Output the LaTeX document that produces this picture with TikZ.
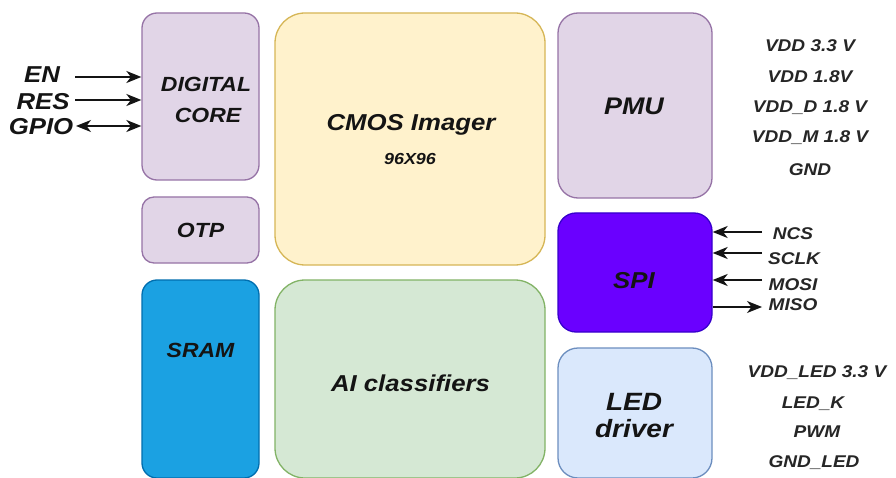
\documentclass[tikz,border=0pt]{standalone}
\usepackage{fontspec}
\setmainfont{Liberation Sans}[FakeStretch=1.12]
\usetikzlibrary{arrows.meta}
\definecolor{purF}{HTML}{E1D5E7}\definecolor{purD}{HTML}{9673A6}
\definecolor{yelF}{HTML}{FFF2CC}\definecolor{yelD}{HTML}{D6B656}
\definecolor{grnF}{HTML}{D5E8D4}\definecolor{grnD}{HTML}{82B366}
\definecolor{bluF}{HTML}{1BA1E2}\definecolor{bluD}{HTML}{006EAF}
\definecolor{vioF}{HTML}{6A00FF}\definecolor{vioD}{HTML}{3700CC}
\definecolor{ledF}{HTML}{DAE8FC}\definecolor{ledD}{HTML}{6C8EBF}
\definecolor{ink}{HTML}{141414}
\definecolor{pin}{HTML}{262626}
\newcommand\fsz[1]{\fontsize{#1}{#1}\selectfont}
\begin{document}
\begin{tikzpicture}[x=1pt,y=-1pt,
  box/.style={line width=1.3pt, rounded corners=#1, inner sep=0pt},
  lbl/.style={anchor=base, inner sep=0pt, text=ink, font=\bfseries\itshape\fsz{#1}},
  plbl/.style={anchor=base, inner sep=0pt, text=pin, font=\bfseries\itshape\fsz{#1}},
  arr/.style={line width=1.5pt, ink, -{Stealth[length=15pt,width=12pt,inset=4.5pt]}},
  darr/.style={line width=1.5pt, ink, {Stealth[length=15pt,width=12pt,inset=4.5pt]}-{Stealth[length=15pt,width=12pt,inset=4.5pt]}}
]
\fill[white] (0,0) rectangle (896,478);
\useasboundingbox (0,0) rectangle (896,478);

% boxes
\node[box=15pt, fill=purF, draw=purD, minimum width=117pt, minimum height=167pt] (dc) at (200.5,96.5) {};
\node[box=12pt, fill=purF, draw=purD, minimum width=117pt, minimum height=66pt] (otp) at (200.5,230) {};
\node[box=15pt, fill=bluF, draw=bluD, minimum width=117pt, minimum height=198pt] (sram) at (200.5,379) {};
\node[box=30pt, fill=yelF, draw=yelD, minimum width=270pt, minimum height=252pt] (cmos) at (410,139) {};
\node[box=30pt, fill=grnF, draw=grnD, minimum width=270pt, minimum height=198pt] (ai) at (410,379) {};
\node[box=20pt, fill=purF, draw=purD, minimum width=154pt, minimum height=185pt] (pmu) at (635,105.5) {};
\node[box=18pt, fill=vioF, draw=vioD, minimum width=154pt, minimum height=119pt] (spi) at (635,272.5) {};
\node[box=20pt, fill=ledF, draw=ledD, minimum width=154pt, minimum height=130pt] (led) at (635,413) {};

% box texts
\node[lbl=20.5] (dct1) at (206,92) {DIGITAL};
\node[lbl=20.5] (dct2) at (208,123) {CORE};
\node[lbl=20.5] (otpt) at (200.5,238) {OTP};
\node[lbl=20.5] (sramt) at (200.5,357) {SRAM};
\node[lbl=23] (cmost) at (411,131) {CMOS Imager};
\node[lbl=16] (cmoss) at (410,165) {96X96};
\node[lbl=23] (ait) at (410.5,391) {AI classifiers};
\node[lbl=24] (pmut) at (634,115) {PMU};
\node[lbl=23] (spit) at (634,288) {SPI};
\node[lbl=25] (ledt1) at (634,410) {LED};
\node[lbl=25] (ledt2) at (634,437) {driver};

% left signals
\node[lbl=23] (en) at (42,83) {EN};
\node[lbl=23] (res) at (43,110) {RES};
\node[lbl=23] (gpio) at (41,135) {GPIO};
\coordinate (enS) at (75,77);
\coordinate (resS) at (75,100);
\coordinate (gpioS) at (76,126);
\draw[arr] (enS) -- (enS -| dc.west);
\draw[arr] (resS) -- (resS -| dc.west);
\draw[darr] (gpioS) -- (gpioS -| dc.west);

% SPI signals
\node[plbl=17] (ncs) at (793,240) {NCS};
\node[plbl=17] (sclk) at (794,265) {SCLK};
\node[plbl=17] (mosi) at (793,290) {MOSI};
\node[plbl=17] (miso) at (793,310) {MISO};
\coordinate (ncsS) at (762,232);
\coordinate (sclkS) at (762,253);
\coordinate (mosiS) at (762,280);
\coordinate (misoE) at (762,307);
\draw[arr] (ncsS) -- (ncsS -| spi.east);
\draw[arr] (sclkS) -- (sclkS -| spi.east);
\draw[arr] (mosiS) -- (mosiS -| spi.east);
\draw[arr] (misoE -| spi.east) -- (misoE);

% PMU pins
\node[plbl=17] (p1) at (810,52) {VDD 3.3 V};
\node[plbl=17] (p2) at (810,83) {VDD 1.8V};
\node[plbl=17] (p3) at (810,113) {VDD\_D 1.8 V};
\node[plbl=17] (p4) at (810,143) {VDD\_M 1.8 V};
\node[plbl=17] (p5) at (810,176) {GND};

% LED pins
\node[plbl=17] (l1) at (817,377) {VDD\_LED 3.3 V};
\node[plbl=17] (l2) at (813,408) {LED\_K};
\node[plbl=17] (l3) at (817,437) {PWM};
\node[plbl=17] (l4) at (814,467) {GND\_LED};
\end{tikzpicture}
\end{document}
